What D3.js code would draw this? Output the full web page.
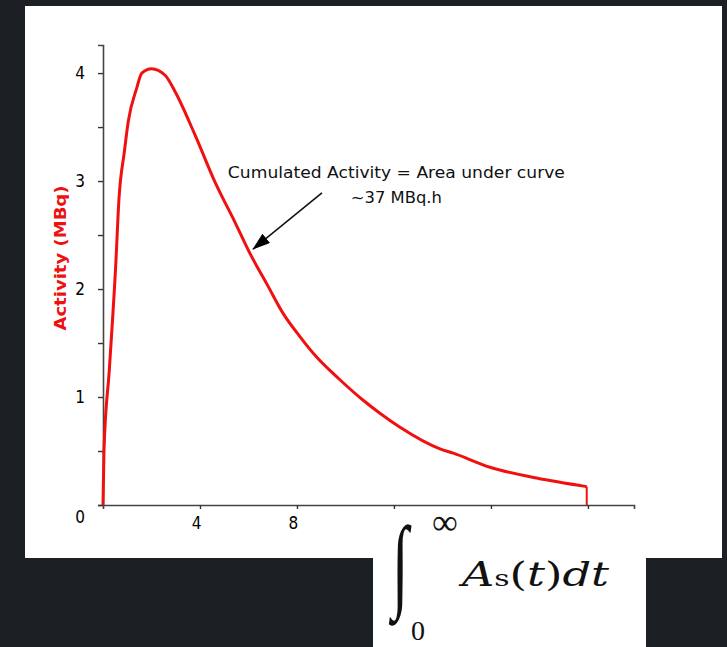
<!DOCTYPE html>
<html>
<head>
<meta charset="utf-8">
<script src="https://cdn.jsdelivr.net/npm/d3@7"></script>
<style>
  body { margin: 0; background: #1c1f24; }
  svg { display: block; }
</style>
</head>
<body>
<svg id="chart" width="727" height="647"></svg>
<script>
// values
var timeHours = [0, 0.04, 0.26, 0.52, 0.66, 0.88, 1.04, 1.39, 1.6, 2.0, 2.56, 2.97, 3.79, 4.62, 5.44, 6.06, 6.75, 7.44, 8.12, 8.81, 9.77, 10.73, 11.42, 12.25, 13.9, 14.45, 15.96, 17.88, 19.95];
var activityMBq = [0, 0.5, 1.25, 2.2, 2.84, 3.27, 3.55, 3.86, 4.0, 4.04, 3.98, 3.83, 3.43, 2.99, 2.62, 2.33, 2.05, 1.77, 1.56, 1.37, 1.16, 0.97, 0.85, 0.72, 0.52, 0.48, 0.35, 0.25, 0.17];
var yTicks = [0, 0.5, 1, 1.5, 2, 2.5, 3, 3.5, 4];
var xTicks = [4, 8, 12, 16, 20];
var xTickLabels = ['4', '8', '', '', ''];
var yTitle = 'Activity (MBq)';
var noteLines = ['Cumulated Activity = Area under curve', '~37 MBq.h'];
var noteAt = [12.1, 3.03];
var arrowFrom = [9.03, 2.89];
var arrowTo = [6.19, 2.37];

var svg = d3.select('#chart');

// white panels
svg.append('rect').attr('x', 25).attr('y', 6).attr('width', 697).attr('height', 552).attr('fill', '#fff');
svg.append('rect').attr('x', 373).attr('y', 540).attr('width', 273).attr('height', 107).attr('fill', '#fff');

let xScale = d3.scaleLinear().domain([0, 21.9]).range([103, 634]);
let yScale = d3.scaleLinear().domain([0, 4.26]).range([505, 45]);

let xAxis = d3.axisBottom(xScale)
    .tickValues(xTicks)
    .tickSize(4)
    .tickPadding(8)
    .tickFormat((d, i) => xTickLabels[i]);
let yAxis = d3.axisLeft(yScale)
    .tickValues(yTicks)
    .tickSize(5)
    .tickPadding(13)
    .tickFormat(d => Number.isInteger(d) ? d : '');

let gx = svg.append('g')
    .attr('transform', 'translate(0,' + yScale(0) + ')')
    .call(xAxis);
let gy = svg.append('g')
    .attr('transform', 'translate(' + xScale(0) + ',0)')
    .call(yAxis);

svg.selectAll('.domain').attr('stroke', '#444').attr('stroke-width', 1.6);
svg.selectAll('.tick line').attr('stroke', '#333').attr('stroke-width', 1.4);
svg.selectAll('.tick text')
    .attr('fill', '#000')
    .style('font-family', '"Liberation Sans Narrow", "DejaVu Sans Condensed", sans-serif')
    .style('font-size', '17px');
gx.selectAll('.tick text').attr('dx', -4);
gy.selectAll('.tick text').filter(d => d === 0).attr('dy', '1em');

// the curve
let pts = timeHours.map((t, i) => [t, activityMBq[i]]);
let line = d3.line()
    .x(d => xScale(d[0]))
    .y(d => yScale(d[1]))
    .curve(d3.curveMonotoneX);
svg.append('path')
    .attr('d', line(pts))
    .attr('fill', 'none')
    .attr('stroke', '#f01010')
    .attr('stroke-width', 3)
    .attr('stroke-linejoin', 'round');
let last = pts[pts.length - 1];
svg.append('line')
    .attr('x1', xScale(last[0])).attr('y1', yScale(last[1]))
    .attr('x2', xScale(last[0])).attr('y2', yScale(0))
    .attr('stroke', '#f01010')
    .attr('stroke-width', 2);

// y title
svg.append('text')
    .attr('transform', 'translate(66,' + 258 + ') rotate(-90)')
    .attr('text-anchor', 'middle')
    .attr('fill', '#ee1111')
    .attr('textLength', 145)
    .attr('lengthAdjust', 'spacingAndGlyphs')
    .style('font-family', '"Comic Sans MS", "DejaVu Sans", sans-serif')
    .style('font-weight', 'bold')
    .style('font-size', '16px')
    .text(yTitle);

// note
let note = svg.append('g')
    .style('font-family', '"Comic Sans MS", "DejaVu Sans", sans-serif')
    .style('font-size', '15px')
    .attr('fill', '#111');
note.append('text')
    .attr('x', xScale(noteAt[0])).attr('y', yScale(noteAt[1]))
    .attr('text-anchor', 'middle')
    .attr('textLength', 337)
    .attr('lengthAdjust', 'spacingAndGlyphs')
    .text(noteLines[0]);
note.append('text')
    .attr('x', xScale(noteAt[0])).attr('y', yScale(noteAt[1]) + 25)
    .attr('text-anchor', 'middle')
    .attr('textLength', 91)
    .attr('lengthAdjust', 'spacingAndGlyphs')
    .text(noteLines[1]);

svg.append('defs').append('marker')
    .attr('id', 'head')
    .attr('markerUnits', 'userSpaceOnUse')
    .attr('markerWidth', 18).attr('markerHeight', 12)
    .attr('refX', 17).attr('refY', 6)
    .attr('orient', 'auto')
    .append('path')
    .attr('d', 'M0,0 L18,6 L0,12 Z')
    .attr('fill', '#000');
svg.append('line')
    .attr('x1', xScale(arrowFrom[0])).attr('y1', yScale(arrowFrom[1]))
    .attr('x2', xScale(arrowTo[0])).attr('y2', yScale(arrowTo[1]))
    .attr('stroke', '#111')
    .attr('stroke-width', 1.6)
    .attr('marker-end', 'url(#head)');

// formula
let f = svg.append('g')
    .attr('fill', '#111')
    .style('font-family', '"Liberation Serif", "DejaVu Serif", serif');
f.append('text')
    .attr('transform', 'translate(392,598) scale(1,1.72)')
    .style('font-size', '60px')
    .style('font-style', 'italic')
    .text('\u222B');
f.append('text')
    .attr('x', 432).attr('y', 534)
    .style('font-size', '36px')
    .text('\u221E');
f.append('text')
    .attr('x', 411).attr('y', 640)
    .style('font-size', '28px')
    .text('0');
let expr = f.append('text')
    .attr('x', 462).attr('y', 586)
    .attr('textLength', 147)
    .attr('lengthAdjust', 'spacingAndGlyphs')
    .style('font-family', '"DejaVu Serif", serif')
    .style('font-size', '33px');
expr.append('tspan').style('font-style', 'italic').text('A');
expr.append('tspan').style('font-size', '22px').text('s');
expr.append('tspan').text('(');
expr.append('tspan').style('font-style', 'italic').text('t');
expr.append('tspan').text(')');
expr.append('tspan').style('font-style', 'italic').text('dt');
</script>
</body>
</html>
